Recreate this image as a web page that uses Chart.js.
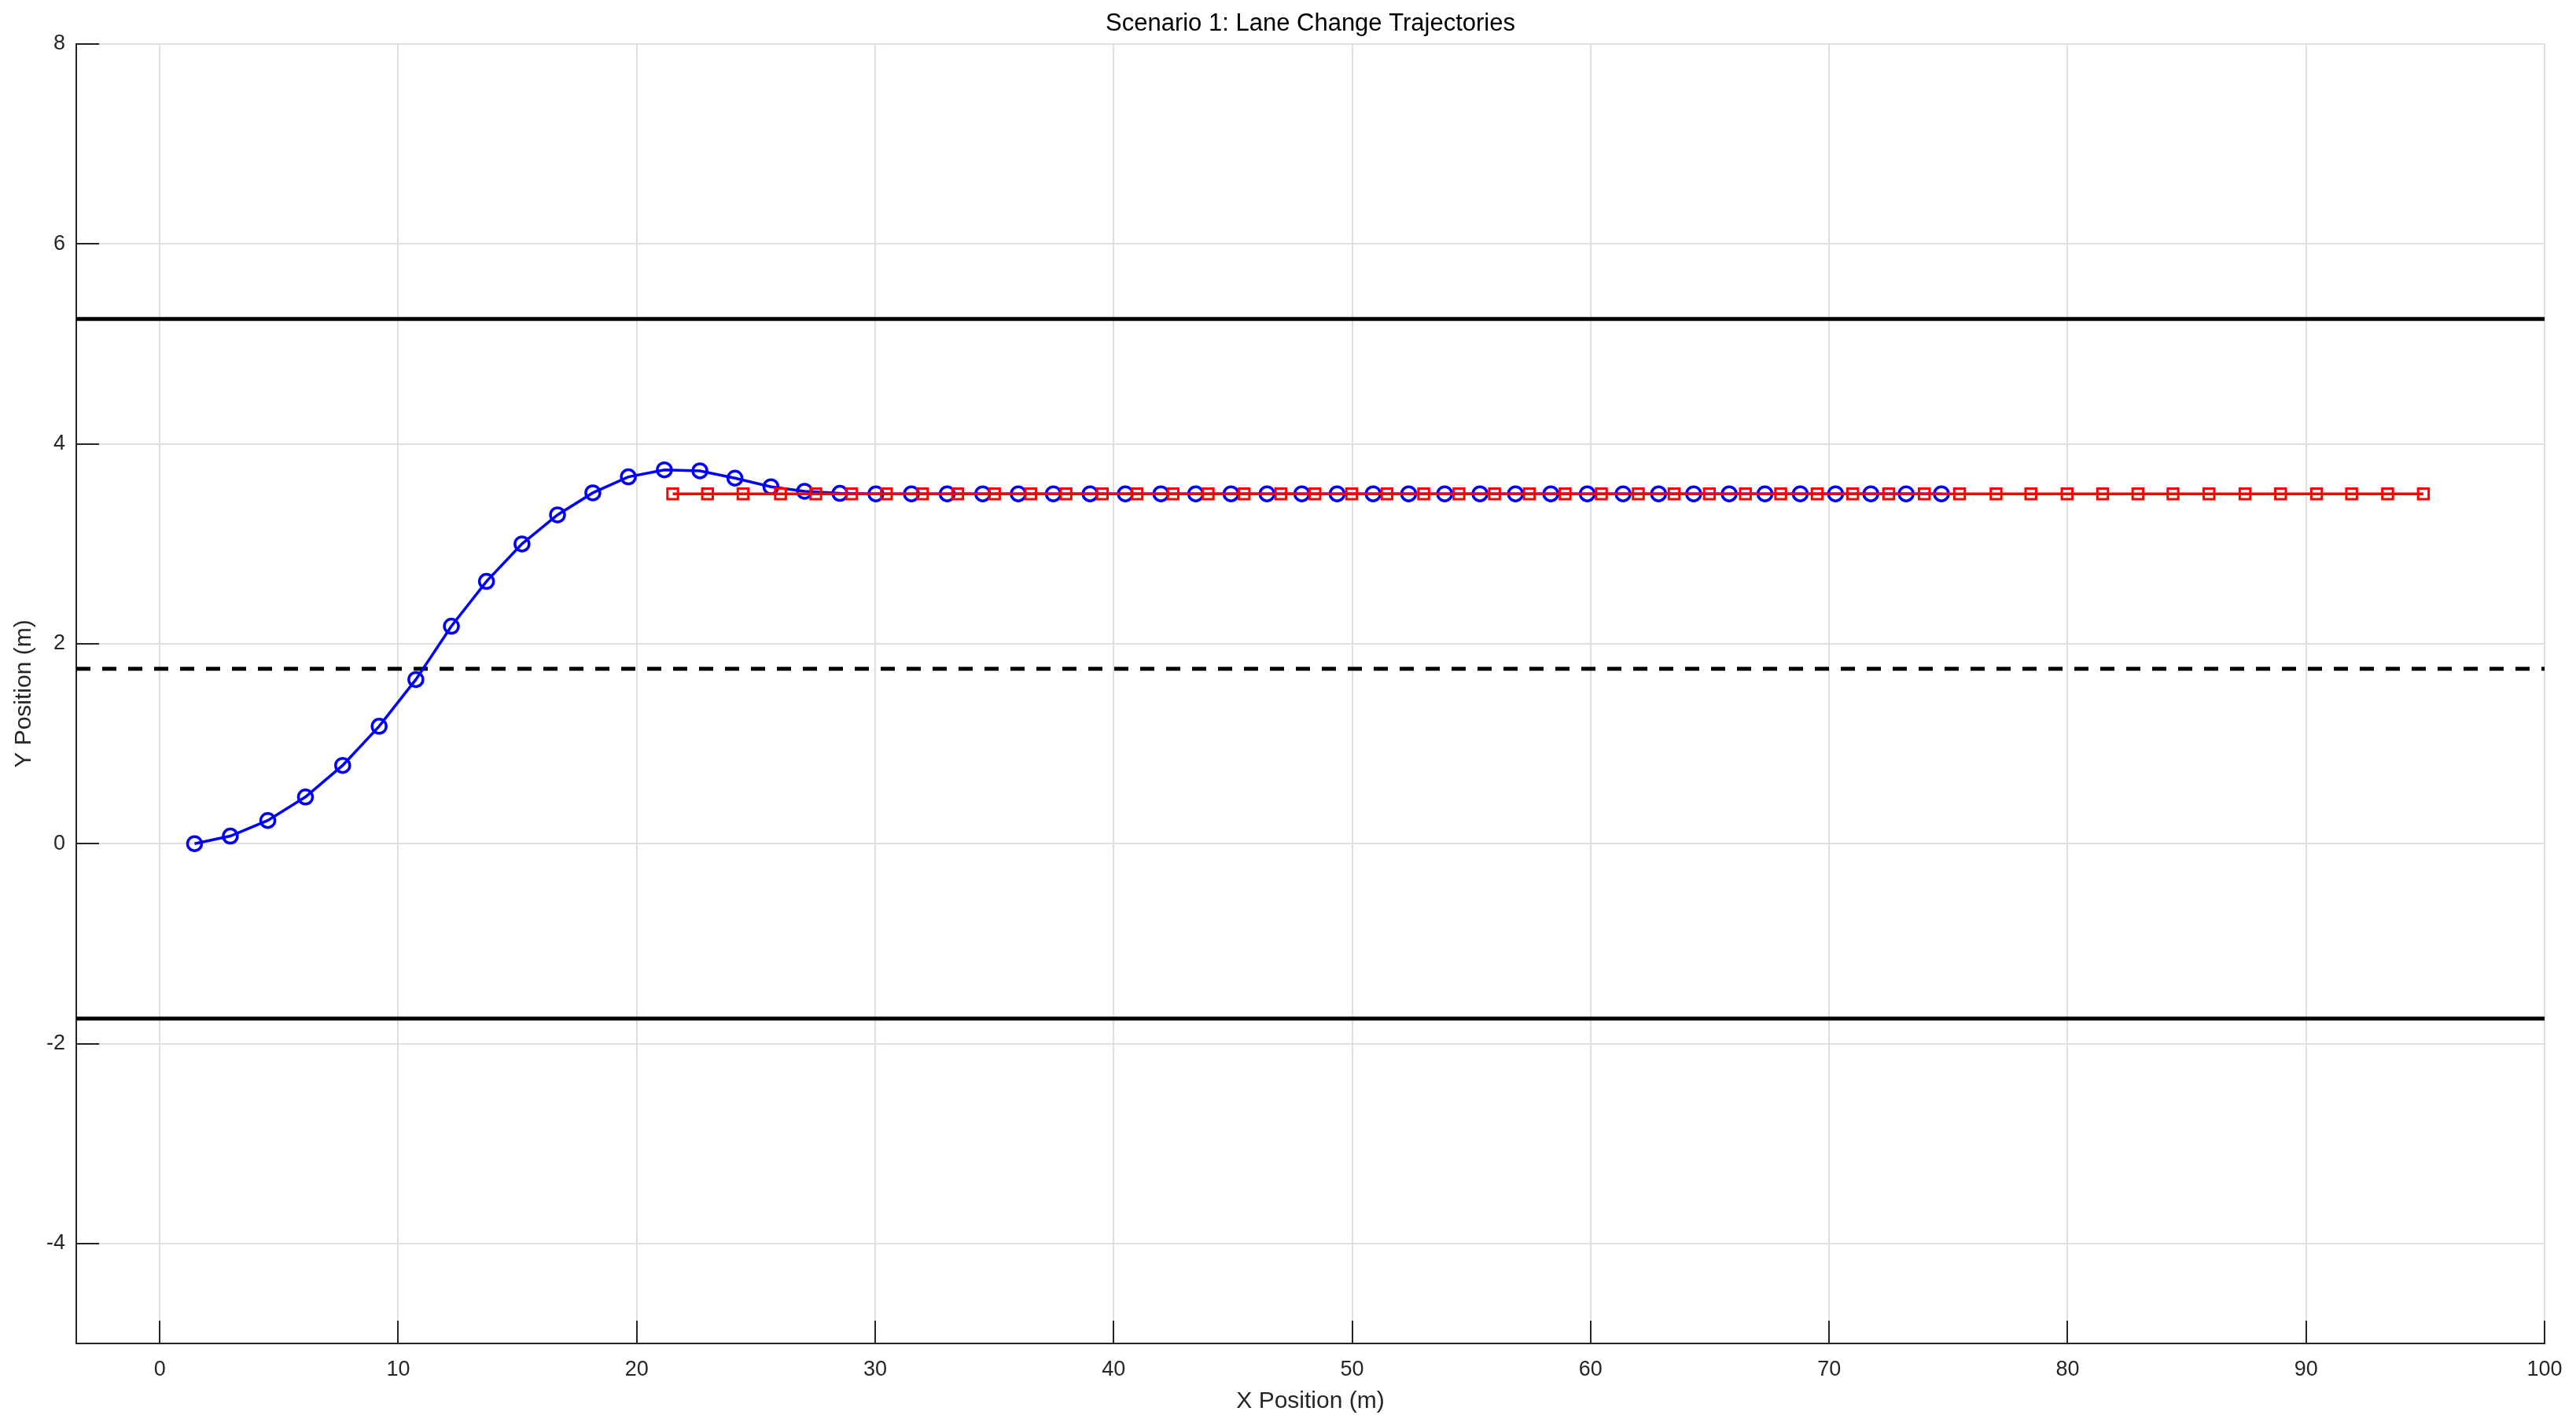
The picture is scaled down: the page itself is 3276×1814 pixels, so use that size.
<!DOCTYPE html>
<html>
<head>
<meta charset="utf-8">
<script src="https://cdn.jsdelivr.net/npm/chart.js@4.4.1/dist/chart.umd.min.js"></script>
<style>
  html, body { margin: 0; padding: 0; background: #ffffff; }
  #wrap { width: 3276px; height: 1814px; position: relative; }
</style>
</head>
<body>
<div id="wrap"><canvas id="c" width="3276" height="1814"></canvas></div>
<script>
// ---- data ----
const chartTitle = 'Scenario 1: Lane Change Trajectories';
const xAxisTitle = 'X Position (m)';
const yAxisTitle = 'Y Position (m)';
const xTicks = [0, 10, 20, 30, 40, 50, 60, 70, 80, 90, 100];
const yTicks = [-4, -2, 0, 2, 4, 6, 8];
const xRange = [-3.5, 100];
const yRange = [-5, 8];

// lane boundaries
const laneX = [-3.5, 100];
const laneTopY = [5.25, 5.25];
const laneCenterY = [1.75, 1.75];
const laneBottomY = [-1.75, -1.75];

// ego vehicle (blue circles)
const egoX = [1.46, 2.96, 4.53, 6.11, 7.67, 9.20, 10.74, 12.23, 13.70, 15.19,
              16.68, 18.16, 19.65, 21.16, 22.65, 24.12, 25.63, 27.04, 28.52, 30.03,
              31.52, 33.02, 34.51, 36.00, 37.47, 39.01, 40.49, 41.98, 43.44, 44.92,
              46.43, 47.89, 49.37, 50.88, 52.37, 53.88, 55.36, 56.85, 58.33, 59.86,
              61.36, 62.85, 64.32, 65.81, 67.31, 68.79, 70.27, 71.75, 73.23, 74.71];
const egoY = [0.00, 0.076, 0.232, 0.467, 0.783, 1.175, 1.642, 2.176, 2.624, 2.999,
              3.29, 3.51, 3.67, 3.74, 3.73, 3.657, 3.571, 3.526, 3.505, 3.5,
              3.5, 3.5, 3.5, 3.5, 3.5, 3.5, 3.5, 3.5, 3.5, 3.5,
              3.5, 3.5, 3.5, 3.5, 3.5, 3.5, 3.5, 3.5, 3.5, 3.5,
              3.5, 3.5, 3.5, 3.5, 3.5, 3.5, 3.5, 3.5, 3.5, 3.5];

// other vehicle (red squares)
const otherX = [21.51, 22.97, 24.46, 26.03, 27.51, 29.01, 30.47, 31.98, 33.46, 35.00,
                36.52, 38.00, 39.52, 40.98, 42.49, 43.96, 45.47, 47.01, 48.44, 49.98,
                51.46, 53.00, 54.48, 55.97, 57.43, 58.93, 60.45, 62.00, 63.50, 64.98,
                66.49, 67.97, 69.50, 70.99, 72.50, 73.99, 75.47, 77.00, 78.46, 79.98,
                81.47, 82.95, 84.42, 85.93, 87.44, 88.93, 90.44, 91.91, 93.42, 94.92];
const otherY = [3.5, 3.5, 3.5, 3.5, 3.5, 3.5, 3.5, 3.5, 3.5, 3.5,
                3.5, 3.5, 3.5, 3.5, 3.5, 3.5, 3.5, 3.5, 3.5, 3.5,
                3.5, 3.5, 3.5, 3.5, 3.5, 3.5, 3.5, 3.5, 3.5, 3.5,
                3.5, 3.5, 3.5, 3.5, 3.5, 3.5, 3.5, 3.5, 3.5, 3.5,
                3.5, 3.5, 3.5, 3.5, 3.5, 3.5, 3.5, 3.5, 3.5, 3.5];

const pts = (xs, ys) => xs.map((x, i) => ({ x: x, y: ys[i] }));

const FONT = '"Liberation Sans", Arial, Helvetica, sans-serif';
const AXIS_COLOR = '#262626';

// inward tick marks (MATLAB style) drawn from the library's scales
const inwardTicks = {
  id: 'inwardTicks',
  beforeDatasetsDraw(chart) {
    const { ctx, chartArea } = chart;
    const xs = chart.scales.x, ys = chart.scales.y;
    const len = 29;
    ctx.save();
    ctx.strokeStyle = AXIS_COLOR;
    ctx.lineWidth = 2;
    ctx.beginPath();
    xs.ticks.forEach(t => {
      const px = Math.round(xs.getPixelForValue(t.value));
      ctx.moveTo(px, chartArea.bottom);
      ctx.lineTo(px, chartArea.bottom - len);
    });
    ys.ticks.forEach(t => {
      const py = Math.round(ys.getPixelForValue(t.value));
      ctx.moveTo(chartArea.left, py);
      ctx.lineTo(chartArea.left + len, py);
    });
    ctx.stroke();
    ctx.restore();
  }
};

// title centred over the plot area (as in the reference)
const plotTitle = {
  id: 'plotTitle',
  afterDraw(chart) {
    const { ctx, chartArea } = chart;
    ctx.save();
    ctx.fillStyle = '#000000';
    ctx.font = '31px ' + FONT;
    ctx.textAlign = 'center';
    ctx.textBaseline = 'middle';
    ctx.fillText(chartTitle, (chartArea.left + chartArea.right) / 2, 30);
    ctx.restore();
  }
};

new Chart(document.getElementById('c'), {
  type: 'line',
  data: {
    datasets: [
      {
        label: 'Other vehicle',
        data: pts(otherX, otherY),
        borderColor: '#ff0000',
        borderWidth: 3.5,
        pointStyle: 'rect',
        pointRadius: 9.5,
        pointBorderWidth: 3,
        pointBorderColor: '#ff0000',
        pointBackgroundColor: 'rgba(0,0,0,0)',
        fill: false,
        tension: 0,
        order: 0
      },
      {
        label: 'Ego vehicle',
        data: pts(egoX, egoY),
        borderColor: '#0000ff',
        borderWidth: 3.5,
        pointStyle: 'circle',
        pointRadius: 9,
        pointBorderWidth: 3.5,
        pointBorderColor: '#0000ff',
        pointBackgroundColor: 'rgba(0,0,0,0)',
        fill: false,
        tension: 0,
        order: 1
      },
      {
        label: 'Lane top',
        data: pts(laneX, laneTopY),
        borderColor: '#000000',
        borderWidth: 5,
        pointRadius: 0,
        fill: false,
        order: 2
      },
      {
        label: 'Lane center',
        data: pts(laneX, laneCenterY),
        borderColor: '#000000',
        borderWidth: 5,
        borderDash: [18, 15],
        pointRadius: 0,
        fill: false,
        order: 2
      },
      {
        label: 'Lane bottom',
        data: pts(laneX, laneBottomY),
        borderColor: '#000000',
        borderWidth: 5,
        pointRadius: 0,
        fill: false,
        order: 2
      }
    ]
  },
  options: {
    responsive: false,
    maintainAspectRatio: false,
    animation: false,
    devicePixelRatio: 1,
    events: [],
    layout: { padding: { left: 0, right: 40, top: 56, bottom: 0 } },
    plugins: {
      legend: { display: false },
      tooltip: { enabled: false },
      title: { display: false }
    },
    scales: {
      x: {
        type: 'linear',
        position: 'bottom',
        min: xRange[0],
        max: xRange[1],
        afterBuildTicks: (s) => { s.ticks = xTicks.map(v => ({ value: v })); },
        afterFit: (s) => { s.height = 105; },
        grid: { color: '#dfdfdf', lineWidth: 2, drawTicks: false },
        border: { display: true, color: AXIS_COLOR, width: 2 },
        ticks: {
          color: AXIS_COLOR,
          font: { family: FONT, size: 27 },
          padding: 17,
          maxRotation: 0,
          autoSkip: false
        },
        title: {
          display: true,
          text: xAxisTitle,
          color: AXIS_COLOR,
          font: { family: FONT, size: 30 },
          padding: { top: 0, bottom: 13 }
        }
      },
      y: {
        type: 'linear',
        position: 'left',
        min: yRange[0],
        max: yRange[1],
        afterBuildTicks: (s) => { s.ticks = yTicks.map(v => ({ value: v })); },
        afterFit: (s) => { s.width = 97; },
        grid: { color: '#dfdfdf', lineWidth: 2, drawTicks: false },
        border: { display: true, color: AXIS_COLOR, width: 2 },
        ticks: {
          color: AXIS_COLOR,
          font: { family: FONT, size: 27 },
          padding: 14,
          autoSkip: false
        },
        title: {
          display: true,
          text: yAxisTitle,
          color: AXIS_COLOR,
          font: { family: FONT, size: 30 },
          padding: { top: 13, bottom: 0 }
        }
      }
    }
  },
  plugins: [inwardTicks, plotTitle]
});
</script>
</body>
</html>
